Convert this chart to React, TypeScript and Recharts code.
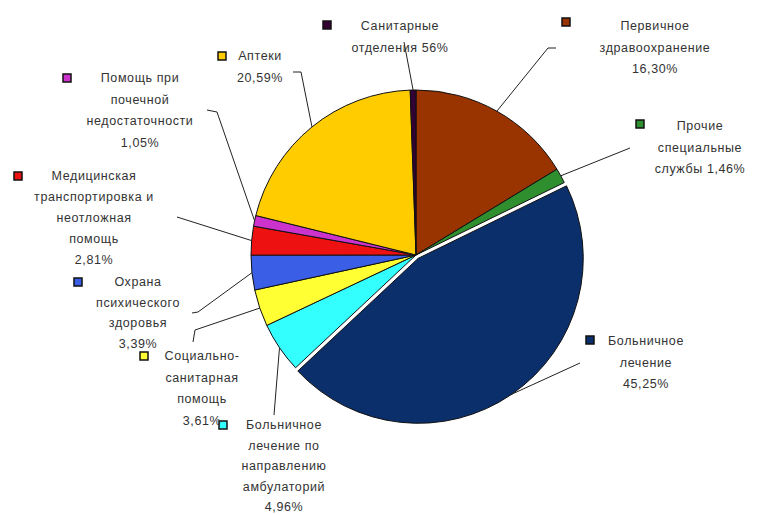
import { PieChart, Pie, Cell } from 'recharts';

// categories in clockwise order from 12 o'clock
const categories = [
  'Первичное здравоохранение',
  'Прочие специальные службы',
  'Больничное лечение',
  'Больничное лечение по направлению амбулаторий',
  'Социально-санитарная помощь',
  'Охрана психического здоровья',
  'Медицинская транспортировка и неотложная помощь',
  'Помощь при почечной недостаточности',
  'Аптеки',
  'Санитарные отделения',
];
const shares = [16.3, 1.46, 45.25, 4.96, 3.61, 3.39, 2.81, 1.05, 20.59, 0.56];
const labelLines = [
  ['Первичное', 'здравоохранение', '16,30%'],
  ['Прочие', 'специальные', 'службы 1,46%'],
  ['Больничное', 'лечение', '45,25%'],
  ['Больничное', 'лечение по', 'направлению', 'амбулаторий', '4,96%'],
  ['Социально-', 'санитарная', 'помощь', '3,61%'],
  ['Охрана', 'психического', 'здоровья', '3,39%'],
  ['Медицинская', 'транспортировка и', 'неотложная', 'помощь', '2,81%'],
  ['Помощь при', 'почечной', 'недостаточности', '1,05%'],
  ['Аптеки', '20,59%'],
  ['Санитарные', 'отделения 56%'],
];
const colors = ['#993300', '#2f8f2f', '#0b2f6b', '#33ffff', '#ffff33', '#3a5ee6', '#ee1111', '#cc33cc', '#ffcc00', '#330033'];

const data = categories.map((name, i) => ({ name, value: shares[i] }));

const EXPLODED = 2;
const SHIFT = 4;
const CX = 411;
const CY = 250;
const R = 165;

// label layout: text centre x, first line y, line gap, legend square, leader points
const layout = [
  { x: 655, y: 26, gap: 21.5, sq: [566, 22], pts: [[548, 48], [556, 48]] },
  { x: 700, y: 126, gap: 21.5, sq: [640, 124], pts: [[630, 148]] },
  { x: 646, y: 341, gap: 21.5, sq: [590, 340], pts: [[580, 363]] },
  { x: 284, y: 425, gap: 20.5, sq: [223, 425], pts: [[274, 415]] },
  { x: 202, y: 356, gap: 21.5, sq: [144, 356], pts: [[195, 330], [193, 342]] },
  { x: 138, y: 282, gap: 20.5, sq: [78, 282], pts: [[198, 312], [192, 313]] },
  { x: 94, y: 176, gap: 21, sq: [18, 176], pts: [[177, 217]] },
  { x: 140, y: 78, gap: 21.5, sq: [67, 78], pts: [[217, 112], [207, 110]] },
  { x: 260, y: 56, gap: 21.5, sq: [222, 56], pts: [[301, 72], [293, 72]] },
  { x: 400, y: 26, gap: 22, sq: [327, 25], pts: [[404, 42]] },
];

const RADIAN = Math.PI / 180;

const renderLabel = (props: any) => {
  const { cx, cy, midAngle, outerRadius, index } = props;
  const l = layout[index];
  let sx = cx + outerRadius * Math.cos(-midAngle * RADIAN);
  let sy = cy + outerRadius * Math.sin(-midAngle * RADIAN);
  if (index === EXPLODED) {
    sx += SHIFT * Math.cos(-midAngle * RADIAN);
    sy += SHIFT * Math.sin(-midAngle * RADIAN);
  }
  const points = [[sx, sy], ...l.pts].map((p) => p.join(',')).join(' ');
  return (
    <g key={`lbl-${index}`}>
      <polyline points={points} fill="none" stroke="#222" strokeWidth={1} />
      <rect x={l.sq[0] - 4} y={l.sq[1] - 4} width={8} height={8} fill={colors[index]} stroke="#111" strokeWidth={1.5} />
      <text
        x={l.x}
        y={l.y}
        textAnchor="middle"
        fontFamily="Liberation Sans, Arial, sans-serif"
        fontSize={12.5}
        fill="#333"
        letterSpacing={0.6}
      >
        {labelLines[index].map((s, k) => (
          <tspan key={k} x={l.x} dy={k === 0 ? '0.35em' : l.gap}>
            {s}
          </tspan>
        ))}
      </text>
    </g>
  );
};

const explodeOffset = (() => {
  const total = shares.reduce((a, b) => a + b, 0);
  const before = shares.slice(0, EXPLODED).reduce((a, b) => a + b, 0);
  const mid = ((before + shares[EXPLODED] / 2) / total) * 360;
  return [SHIFT * Math.sin(mid * RADIAN), -SHIFT * Math.cos(mid * RADIAN)];
})();

export default function App() {
  return (
    <div style={{ position: 'absolute', left: 0, top: 0, width: 762, height: 515, background: '#fff' }}>
      <PieChart width={762} height={515}>
        <Pie
          data={data}
          dataKey="value"
          nameKey="name"
          cx={CX + explodeOffset[0]}
          cy={CY + explodeOffset[1]}
          outerRadius={R}
          startAngle={90}
          endAngle={-270}
          isAnimationActive={false}
          label={false}
          labelLine={false}
          stroke="#111"
          strokeWidth={1}
        >
          {data.map((d, i) => (
            <Cell key={d.name} fill={i === EXPLODED ? colors[i] : 'none'} stroke={i === EXPLODED ? '#111' : 'none'} />
          ))}
        </Pie>
        <Pie
          data={data}
          dataKey="value"
          nameKey="name"
          cx={CX}
          cy={CY}
          outerRadius={R}
          startAngle={90}
          endAngle={-270}
          isAnimationActive={false}
          label={renderLabel}
          labelLine={false}
          stroke="#111"
          strokeWidth={1}
        >
          {data.map((d, i) => (
            <Cell key={d.name} fill={i === EXPLODED ? 'none' : colors[i]} stroke={i === EXPLODED ? 'none' : '#111'} />
          ))}
        </Pie>
      </PieChart>
    </div>
  );
}
